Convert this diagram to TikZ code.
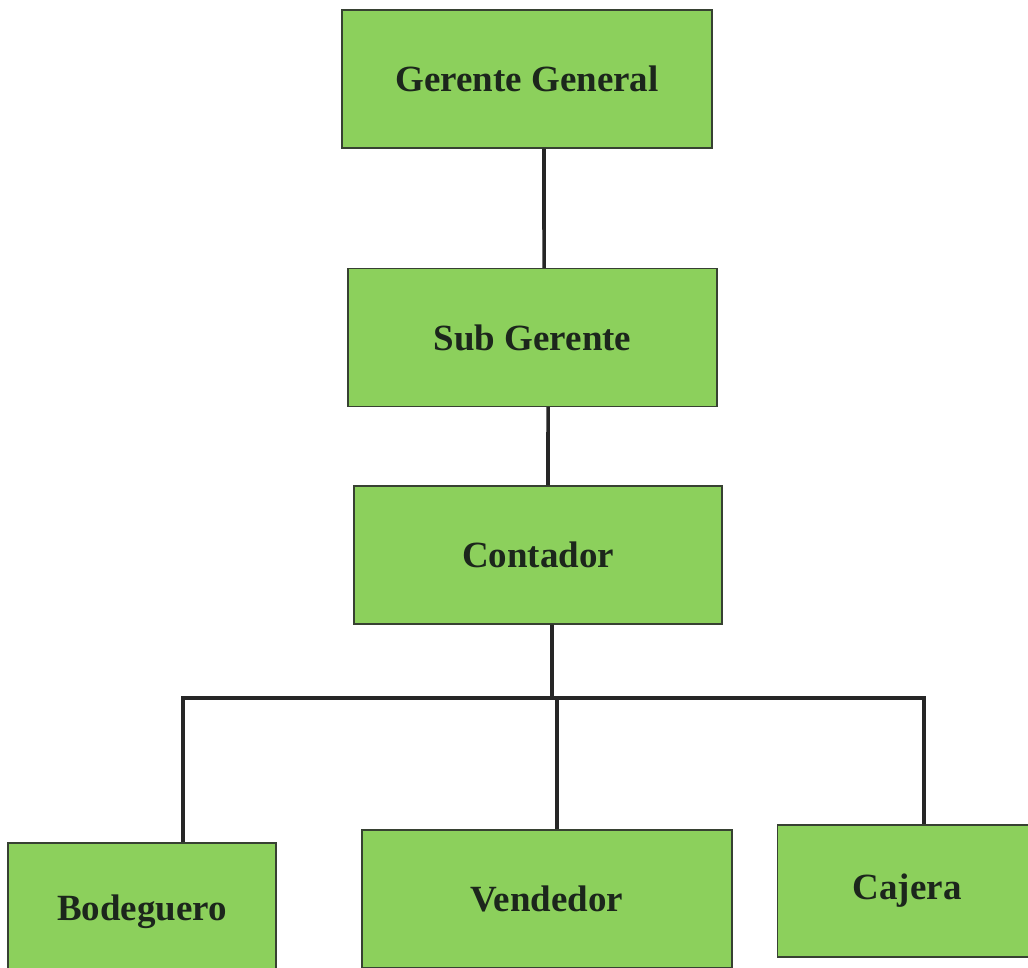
\documentclass[tikz,border=0pt]{standalone}
\usepackage{fontspec}
\setmainfont{Liberation Serif}
\usepackage{xcolor}
\usetikzlibrary{positioning}
\definecolor{boxgreen}{RGB}{140,208,92}
\definecolor{boxline}{RGB}{55,65,50}
\definecolor{textdark}{RGB}{28,38,28}

\begin{document}
\begin{tikzpicture}[
    puesto/.style={draw=boxline, line width=0.9pt, fill=boxgreen, minimum width=#1,
      minimum height=3.45cm, inner sep=0pt, text=textdark,
      font=\fontsize{26.3}{31}\selectfont\bfseries},
    link/.style={line width=2.6pt, color=black!85}]
    \useasboundingbox (0,0) rectangle (25.7,-24.175);
    \node[puesto=9.25cm] (gg) at (13.175, -1.975) {Gerente General};
    \node[puesto=9.225cm] (sub) at (13.3125, -8.4375) {Sub Gerente};
    \node[puesto=9.2cm] (cont) at (13.45, -13.875) {Contador};
    \node[puesto=6.7cm] (bod) at (3.55, -22.8) {Bodeguero};
    \node[puesto=9.25cm] (vend) at (13.675, -22.475) {Vendedor};
    \node[puesto=6.5cm, minimum height=3.3cm] (caj) at (22.68, -22.275) {Cajera};
    \coordinate (bus) at (13.8, -17.45);
    \draw[link] ([xshift=4.25mm]gg.south) -- ([xshift=2.9mm]sub.north);
    \draw[link] ([xshift=3.9mm]sub.south) -- ([xshift=2.5mm]cont.north);
    \draw[link] ([xshift=3.5mm]cont.south) -- (bus);
    \draw[link] ([xshift=10.25mm]bod.north) |- (bus) -| ([xshift=4.2mm]caj.north);
    \draw[link] ([xshift=2.5mm]vend.north) -- ([xshift=2.5mm]vend.north |- bus);
\end{tikzpicture}
\end{document}
